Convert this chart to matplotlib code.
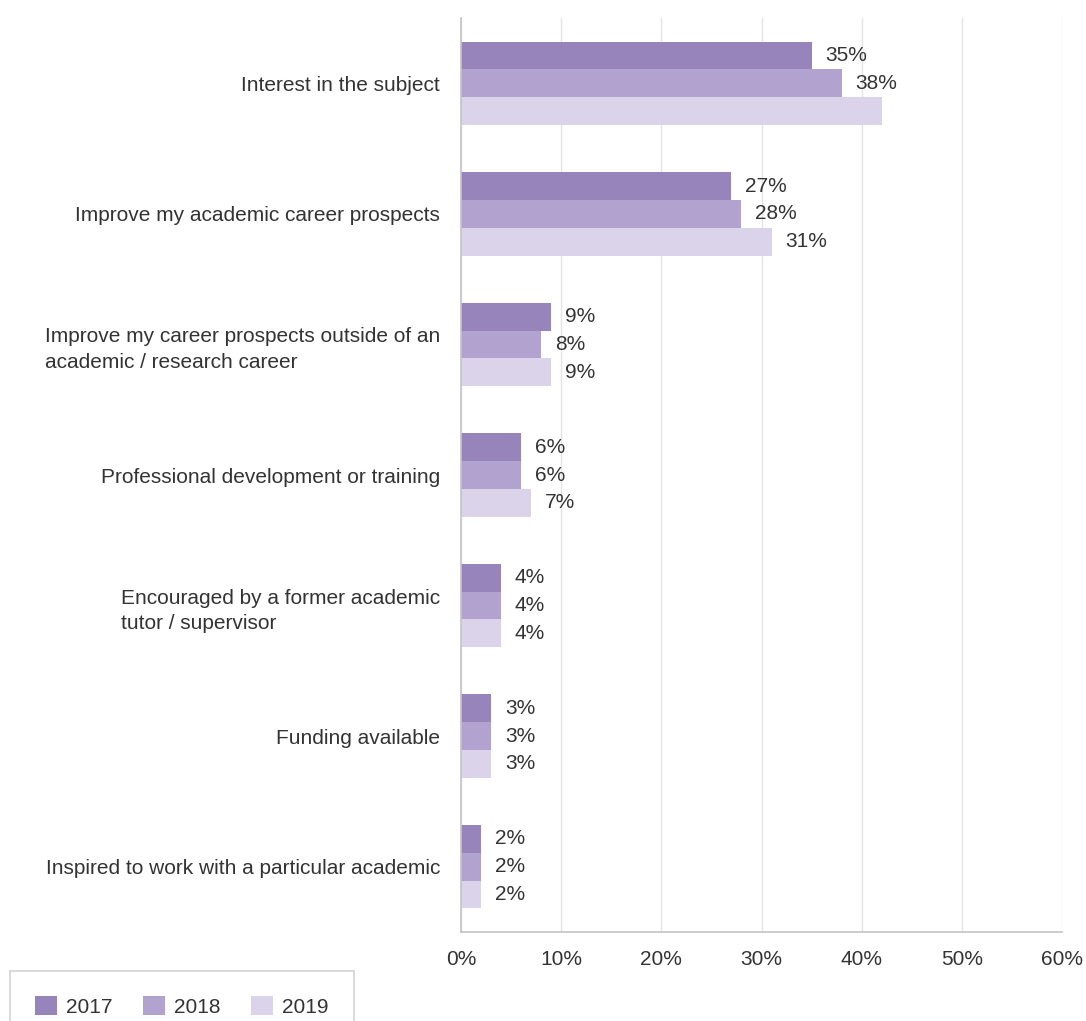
import numpy as np
import matplotlib.pyplot as plt
from matplotlib.ticker import FuncFormatter

plt.rcParams['font.family'] = ['Liberation Sans', 'DejaVu Sans']

# Reasons for undertaking the degree, share of respondents by year
reasons = [
    'Interest in the subject',
    'Improve my academic career prospects',
    'Improve my career prospects outside of an\nacademic / research career',
    'Professional development or training',
    'Encouraged by a former academic\ntutor / supervisor',
    'Funding available',
    'Inspired to work with a particular academic',
]
years = ['2017', '2018', '2019']
vals_2017 = [35, 27, 9, 6, 4, 3, 2]
vals_2018 = [38, 28, 8, 6, 4, 3, 2]
vals_2019 = [42, 31, 9, 7, 4, 3, 2]
# the top 2019 bar carries no value label
show_2019 = [False, True, True, True, True, True, True]

colors = ['#9784bb', '#b2a2cf', '#dad3ea']
text_col = '#333333'
fs = 15

fig = plt.figure(figsize=(10.86, 10.21), dpi=100)
ax = fig.add_axes([461 / 1086, 1 - 932 / 1021, 601 / 1086, 914 / 1021])

y = np.arange(len(reasons))
h = 0.213
series = [vals_2017, vals_2018, vals_2019]
for i, (vals, col, yr) in enumerate(zip(series, colors, years)):
    pos = y + (i - 1) * h
    bars = ax.barh(pos, vals, height=h, color=col, label=yr, zorder=2)
    for j, (b, v) in enumerate(zip(bars, vals)):
        if i == 2 and not show_2019[j]:
            continue
        ax.annotate(f'{v}%', (v, b.get_y() + b.get_height() / 2),
                    xytext=(10, 0), textcoords='offset points',
                    va='center', ha='left', fontsize=fs, color=text_col)

ax.set_ylim(len(reasons) - 0.5, -0.5)
ax.set_xlim(0, 60)
ax.set_xticks(range(0, 61, 10))
ax.xaxis.set_major_formatter(FuncFormatter(lambda v, p: f'{v:.0f}%'))
ax.set_yticks(y)
ax.set_yticklabels(reasons, multialignment='left', linespacing=1.45)
ax.tick_params(axis='both', length=0, labelsize=fs, colors=text_col)
ax.tick_params(axis='y', pad=15)
ax.tick_params(axis='x', pad=13)

ax.grid(axis='x', color='#e4e4e4', linewidth=1, zorder=0)
for s in ['top', 'right']:
    ax.spines[s].set_visible(False)
for s in ['left', 'bottom']:
    ax.spines[s].set_color('#c4c4c4')
    ax.spines[s].set_linewidth(1.2)

leg = fig.legend(loc='upper left', bbox_to_anchor=(10 / 1086, 1 - 971 / 1021),
                 ncol=3, frameon=True, fancybox=False, fontsize=fs,
                 handlelength=1.05, handleheight=1.05, handletextpad=0.45,
                 columnspacing=1.45, borderpad=1.2, borderaxespad=0)
leg.get_frame().set_edgecolor('#c8c8c8')
leg.get_frame().set_linewidth(1.2)
for t in leg.get_texts():
    t.set_color(text_col)

fig.savefig('out.png', dpi=100)
